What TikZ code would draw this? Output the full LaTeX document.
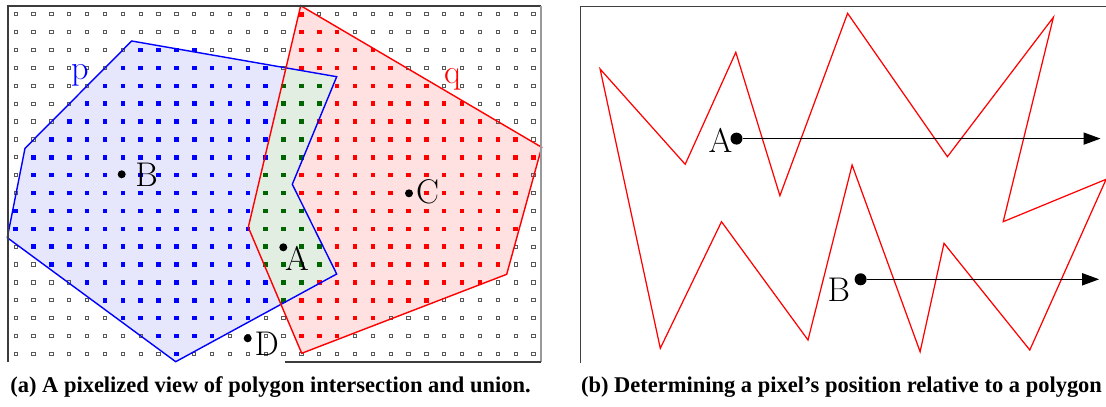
\documentclass[tikz,border=0pt]{standalone}
\usepackage{tikz}
\usepackage{fontspec}
\usetikzlibrary{arrows.meta}
\newfontfamily\capfont{Liberation Serif}

\definecolor{pfill}{RGB}{230,230,252}
\definecolor{qfill}{RGB}{255,225,225}
\definecolor{pqfill}{RGB}{227,238,227}
\definecolor{pqdot}{RGB}{0,100,0}
\definecolor{framegray}{RGB}{60,60,60}

\tikzset{
  pix0/.style={draw=black!65, line width=0.55pt, minimum size=0.065cm, inner sep=0pt},
  pix1/.style={fill=blue, minimum size=0.09cm, inner sep=0pt},
  pix2/.style={fill=red, minimum size=0.09cm, inner sep=0pt},
  pix3/.style={fill=pqdot, minimum size=0.09cm, inner sep=0pt},
  dot/.style={circle, fill=black, inner sep=0pt, minimum size=#1},
  dot/.default=0.16cm,
  lbl/.style={font=\fontsize{19.5}{19.5}\selectfont, inner sep=0pt},
  caption/.style={font=\capfont\bfseries\fontsize{12.8}{14}\selectfont, inner sep=0pt}
}

\begin{document}
\begin{tikzpicture}[x=0.02cm, y=-0.02cm]
\useasboundingbox (0,0) rectangle (1106,406);

% (a) two polygons over the pixel grid
\coordinate (p1) at (131.7,41);
\coordinate (p2) at (336.7,76.7);
\coordinate (p3) at (292.3,184.3);
\coordinate (p4) at (336.7,274);
\coordinate (p5) at (175.7,361.7);
\coordinate (p6) at (7.3,237.7);
\coordinate (p7) at (25,148.3);
\coordinate (q1) at (300.7,5.7);
\coordinate (q2) at (541.7,147.3);
\coordinate (q3) at (506.7,274.3);
\coordinate (q4) at (301.7,353.3);
\coordinate (q5) at (248.3,227.3);

\fill[pfill] (p1) -- (p2) -- (p3) -- (p4) -- (p5) -- (p6) -- (p7) -- cycle;
\fill[qfill] (q1) -- (q2) -- (q3) -- (q4) -- (q5) -- cycle;
\begin{scope}
  \clip (p1) -- (p2) -- (p3) -- (p4) -- (p5) -- (p6) -- (p7) -- cycle;
  \fill[pqfill] (q1) -- (q2) -- (q3) -- (q4) -- (q5) -- cycle;
\end{scope}

% row / first and last pixel in p / first and last pixel in q
\begin{scope}[shift={(15.7,14.3)}, x=0.3572cm, y=-0.3576cm]
\foreach \r/\pa/\pb/\qa/\qb in {0/99/-1/16/16, 1/99/-1/16/18, 2/7/10/16/20,
    3/6/14/16/21, 4/5/17/15/23, 5/4/17/15/25, 6/3/16/15/26, 7/2/16/15/28,
    8/1/16/15/29, 9/1/15/14/28, 10/1/15/14/28, 11/0/16/14/28, 12/0/16/14/28,
    13/1/17/14/27, 14/2/17/14/27, 15/4/16/15/26, 16/5/15/15/23,
    17/6/13/16/20, 18/8/11/16/18, 19/9/9/99/-1}{
  \foreach \c in {0,...,29}{
    \pgfmathtruncatemacro{\kind}{and(\c>=\pa,\c<=\pb)+2*and(\c>=\qa,\c<=\qb)}
    \node[pix\kind] (px-\c-\r) at (\c,\r) {};
  }
}
\end{scope}

\draw[blue, line width=0.8pt] (p1) -- (p2) -- (p3) -- (p4) -- (p5) -- (p6) -- (p7) -- cycle;
\draw[red, line width=0.8pt] (q1) -- (q2) -- (q3) -- (q4) -- (q5) -- cycle;

\draw[framegray, line width=1.1pt] (8,362) -- (8,6) -- (541,6);
\draw[black!40, line width=0.7pt] (541,6) -- (541,362);
\draw[framegray, line width=1.1pt] (285,362) -- (541,362);

\node[lbl, text=blue] (lp) at (80,75) {p};
\node[lbl, text=red] (lq) at (452.5,79.5) {q};
\node[dot] (ptB) at (121.7,174.3) {};
\node[lbl] (lB) at (146.7,174.7) {B};
\node[dot] (ptC) at (409,193.3) {};
\node[lbl] (lC) at (427.5,191.7) {C};
\node[dot] (ptA) at (283.3,247.3) {};
\node[lbl] (lA) at (297,258) {A};
\node[dot] (ptD) at (247.7,338.3) {};
\node[lbl] (lD) at (266.7,343.3) {D};

\node[caption] (capa) at (270.5,387) {(a) A pixelized view of polygon intersection and union.};

% (b) rays from two pixels
\draw[black!75, line width=0.8pt] (580.3,363) -- (580.3,6.7) -- (1106,6.7);
\draw[red, line width=0.7pt] (600.1,69) -- (685.2,164.3) -- (735.8,52.3) -- (779.9,195.7)
  -- (847.6,13.3) -- (947.4,156.7) -- (1053.4,17.3) -- (1003.2,221.7) -- (1106.1,179.3)
  -- (1029.8,350) -- (944,243.3) -- (920.1,351.7) -- (852.1,165) -- (808,340)
  -- (721.5,221.7) -- (660.3,348.3) -- cycle;

\node[dot=0.24cm] (rayA) at (736.5,138.6) {};
\node[lbl] (lrA) at (720.5,140.8) {A};
\coordinate (endA) at (1100.6,138.6);
\draw[line width=0.9pt, -{Triangle[length=0.34cm, width=0.24cm]}] (rayA) -- (endA);

\node[dot=0.24cm] (rayB) at (860.6,279.3) {};
\node[lbl] (lrB) at (838.9,290) {B};
\coordinate (endB) at (1099.2,279.3);
\draw[line width=0.9pt, -{Triangle[length=0.34cm, width=0.24cm]}] (rayB) -- (endB);

\node[caption] (capb) at (841.5,387) {(b) Determining a pixel’s position relative to a polygon};
\end{tikzpicture}
\end{document}
